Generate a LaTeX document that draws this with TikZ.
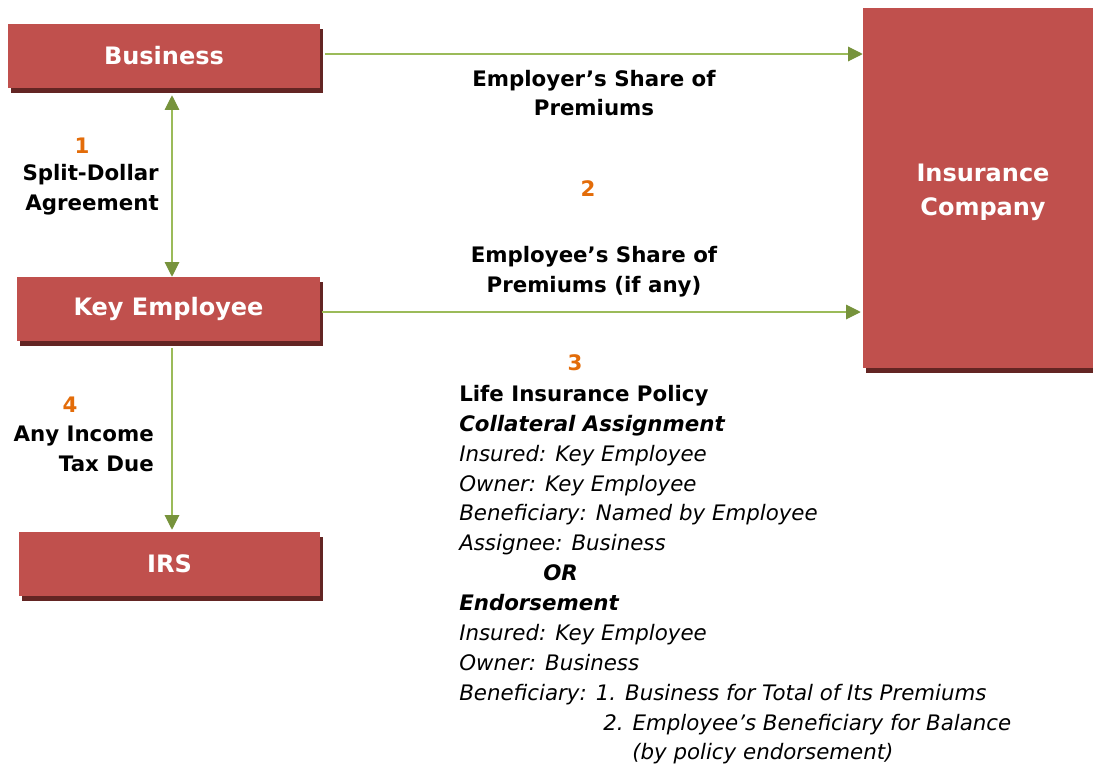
\documentclass[tikz,border=0pt]{standalone}
\usepackage{fontspec}
\setmainfont{DejaVu Sans}
\usetikzlibrary{arrows.meta,shadows}

\definecolor{boxred}{HTML}{C0504D}
\definecolor{boxshade}{HTML}{632523}
\definecolor{linegreen}{HTML}{9BBB59}
\definecolor{tipgreen}{HTML}{77933C}
\definecolor{numorange}{HTML}{E36C09}

\newcommand\pxu{0.75pt}

\tikzset{
  party/.style={fill=boxred, text=white, align=center, inner sep=0pt,
    font=\fontsize{18}{25.5}\selectfont\bfseries,
    general shadow={fill=boxshade, shadow xshift=1.9pt, shadow yshift=-3.75pt}},
  flow/.style={draw=linegreen, line width=0.8pt, -{Triangle[width=11pt,length=11pt,color=tipgreen]}},
  flowboth/.style={flow, {Triangle[width=11pt,length=11pt,color=tipgreen]}-{Triangle[width=11pt,length=11pt,color=tipgreen]}},
  lbl/.style={inner sep=0pt, font=\fontsize{16}{22.4}\selectfont\bfseries},
  num/.style={inner sep=0pt, text=numorange, font=\fontsize{16}{22.4}\selectfont\bfseries}
}

\begin{document}
\begin{tikzpicture}[x=\pxu, y=-\pxu]

\useasboundingbox (0,0) rectangle (1093,764); %% page

%% parties
\node[party, minimum width=312*\pxu, minimum height=64*\pxu] (bus) at (164,56) {Business};
\node[party, minimum width=240*\pxu, minimum height=360*\pxu] (ins) at (983,188) {\rule{0pt}{19pt}Insurance\\Company};
\node[party, minimum width=303*\pxu, minimum height=64*\pxu] (key) at (168.5,309) {Key Employee};
\node[party, minimum width=301*\pxu, minimum height=64*\pxu] (irs) at (169.5,564) {IRS};

%% flows
\coordinate (spine) at (172,0);
\draw[flow, shorten <=3.75pt] ([yshift=1.5pt]bus.east) -- ([yshift=1.5pt]bus.east -| ins.west);
\draw[flow, shorten <=1.5pt, shorten >=1.5pt] ([yshift=-2.25pt]key.east) -- ([yshift=-2.25pt]key.east -| ins.west);
\draw[flowboth, shorten <=5.25pt] (bus.south -| spine) -- (key.north -| spine);
\draw[flow, shorten <=5.25pt, shorten >=1.5pt] (key.south -| spine) -- (irs.north -| spine);

%% labels
\node[num] (n1) at (82,146) {1};
\node[lbl, align=right, anchor=east] (split) at (159,190) {Split-Dollar\\Agreement};
\node[lbl, align=center] (ershare) at (594,93) {Employer’s Share of\\Premiums};
\node[num] (n2) at (588,189) {2};
\node[lbl, align=center] (eeshare) at (594,272) {Employee’s Share of\\Premiums (if any)};
\node[num] (n3) at (575,363) {3};
\node[num] (n4) at (70,405) {4};
\node[lbl, align=right, anchor=east] (tax) at (154,449) {Any Income\\Tax Due};

\node[inner sep=0pt, anchor=north west, align=left,
  font=\fontsize{16}{22.4}\selectfont\itshape] (policy) at (459,385) {%
  \textbf{\upshape Life Insurance Policy}\\
  \textbf{Collateral Assignment}\\
  Insured: Key Employee\\
  Owner: Key Employee\\
  Beneficiary: Named by Employee\\
  Assignee: Business\\
  \hspace*{63pt}\textbf{OR}\\
  \textbf{Endorsement}\\
  Insured: Key Employee\\
  Owner: Business\\
  Beneficiary: 1. Business for Total of Its Premiums\\
  \hspace*{108pt}2. Employee’s Beneficiary for Balance\\
  \hspace*{129.75pt}(by policy endorsement)};

\end{tikzpicture}
\end{document}
